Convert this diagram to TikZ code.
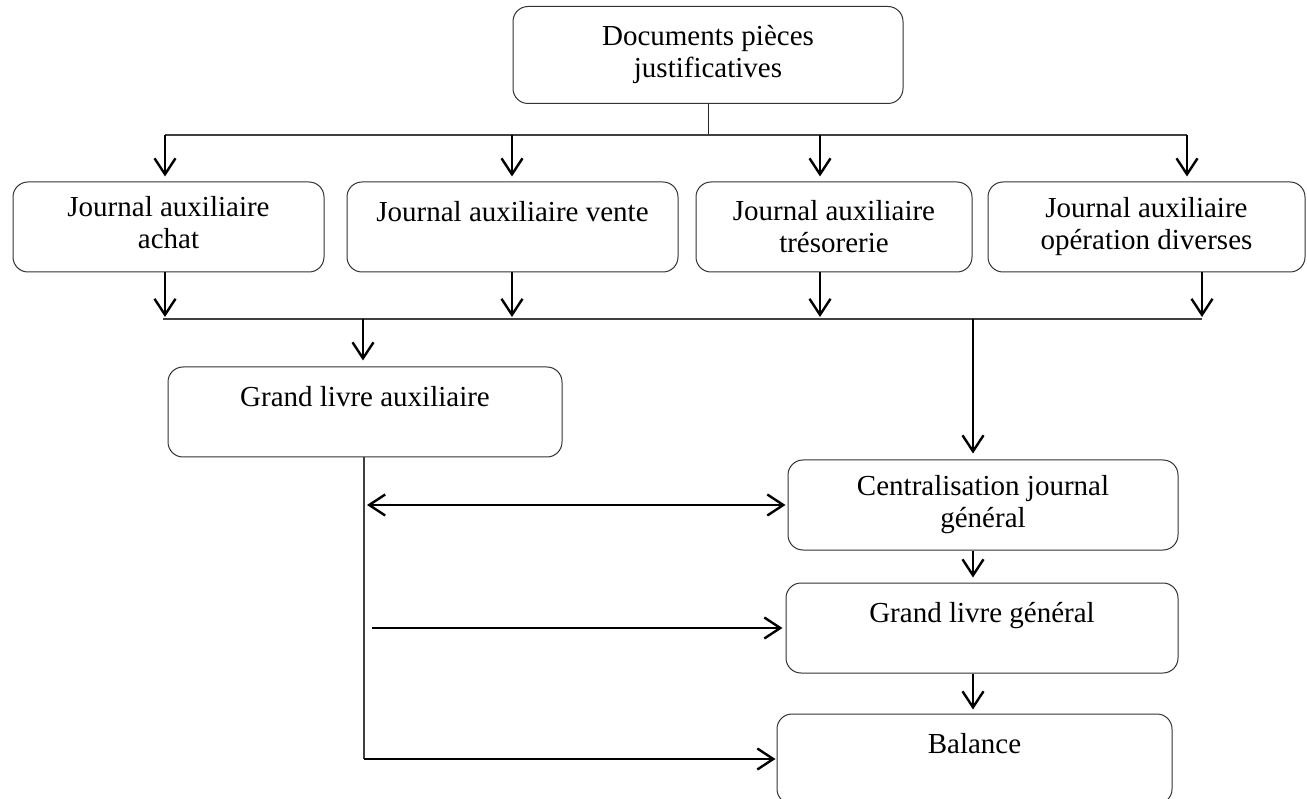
\documentclass[tikz,border=0pt]{standalone}
\usepackage{fontspec}
\setmainfont{Liberation Serif}
\usetikzlibrary{arrows.meta,calc}
\begin{document}
\begin{tikzpicture}[x=1pt,y=-1pt,
  box/.style={draw=black!80, line width=1pt, rounded corners=15pt, align=center,
    font=\fontsize{29}{32}\selectfont, inner sep=0pt, minimum height=90},
  barb/.tip={Straight Barb[length=16pt,width=21pt,line width=2.4pt]},
  arr/.style={draw, line width=2.4pt, -barb},
  darr/.style={draw, line width=2.4pt, barb-barb},
  bus/.style={draw=black!75, line width=1.6pt},
  thinline/.style={draw=black!85, line width=1pt}]
\useasboundingbox (0,0) rectangle (1307,799);
\clip (0,0) rectangle (1307,799);

% boxes
\node[box, minimum width=390, minimum height=97] (top) at (708,55) {Documents pièces\\justificatives};
\node[box, minimum width=311] (achat) at (168.5,227) {Journal auxiliaire\\achat\\[-22pt]\mbox{}};
\node[box, minimum width=331] (vente) at (512.5,227) {Journal auxiliaire vente\\\mbox{}};
\node[box, minimum width=276] (treso) at (834,227) {Journal auxiliaire\\trésorerie};
\node[box, minimum width=317] (opdiv) at (1146.5,227) {Journal auxiliaire\\opération diverses};
\node[box, minimum width=394] (gla) at (365,412) {Grand livre auxiliaire\\\mbox{}};
\node[box, minimum width=390] (cjg) at (983,505) {Centralisation journal\\général};
\node[box, minimum width=392] (glg) at (982,628) {Grand livre général\\\mbox{}};
\node[box, minimum width=395] (bal) at (974.5,759) {Balance\\\mbox{}};

% top distribution bus
\coordinate (t0) at (708,135);
\coordinate (ta) at (165,135);
\coordinate (tb) at (512,135);
\coordinate (tc) at (820,135);
\coordinate (td) at (1187,135);
\draw[thinline] (top.south) -- (t0);
\draw[bus] (ta) -- (td);
\draw[arr, shorten >=5pt] (ta) -- (ta |- achat.north);
\draw[arr, shorten >=5pt] (tb) -- (tb |- vente.north);
\draw[arr, shorten >=5pt] (tc) -- (tc |- treso.north);
\draw[arr, shorten >=5pt] (td) -- (td |- opdiv.north);

% collecting bus
\coordinate (ba) at (165,319);
\coordinate (bb) at (512,319);
\coordinate (bc) at (820,319);
\coordinate (bd) at (1202,319);
\coordinate (bl) at (163,319);
\coordinate (bg) at (363,319);
\coordinate (bj) at (973,319);
\draw[arr, shorten >=2pt] (achat.south -| ba) -- (ba);
\draw[arr, shorten >=2pt] (vente.south -| bb) -- (bb);
\draw[arr, shorten >=2pt] (treso.south -| bc) -- (bc);
\draw[arr, shorten >=2pt] (opdiv.south -| bd) -- (bd);
\draw[bus] (bl) -- (bd);
\draw[arr, shorten >=6pt] (bg) -- (bg |- gla.north);
\draw[arr, shorten >=6pt] (bj) -- (bj |- cjg.north);

% left trunk
\coordinate (vx) at (364,0);
\coordinate (vb) at (vx |- bal.west);
\draw[bus] (gla.south -| vx) -- (vb);
\draw[arr, shorten >=1pt] (vb) -- (bal.west);
\coordinate (d0) at (vx |- cjg.west);
\draw[darr, shorten <=3pt, shorten >=2pt] (d0) -- (cjg.west);
\coordinate (g0) at ($(vx |- glg.west)+(8,0)$);
\draw[arr, shorten >=3pt] (g0) -- (glg.west);

% right chain
\coordinate (cx) at (973,0);
\draw[arr, shorten >=5pt] (cjg.south -| cx) -- (glg.north -| cx);
\draw[arr, shorten >=4pt] (glg.south -| cx) -- (bal.north -| cx);
\end{tikzpicture}
\end{document}
